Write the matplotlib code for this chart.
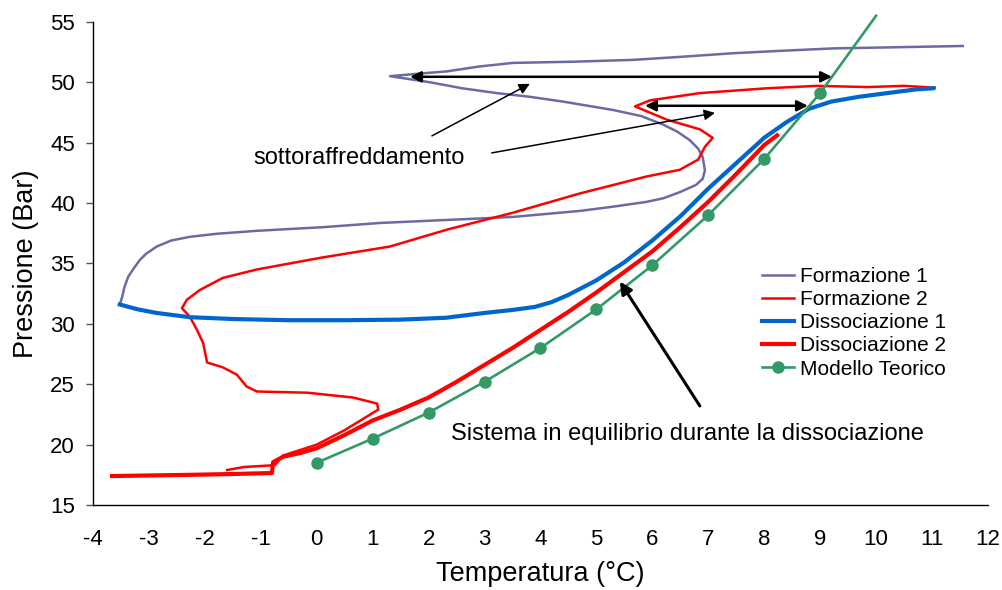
import matplotlib
matplotlib.use("Agg")
import matplotlib.pyplot as plt

plt.rcParams['font.family'] = ['Liberation Sans', 'DejaVu Sans']
plt.rcParams['axes.unicode_minus'] = False

# Formazione 1
form1_t = [11.55, 10.4, 9.23, 8.3, 7.44, 6.5, 5.65, 4.6, 3.51, 2.9, 2.33, 1.8, 1.31,
           2.02, 2.6, 3.22, 3.8, 4.4, 5.3, 5.8, 6.19, 6.45, 6.67, 6.82, 6.9, 6.94, 6.9,
           6.78, 6.49, 6.2, 5.9, 5.3, 4.71, 3.51, 2.33, 1.13, 0.11, -1.07, -1.8, -2.27,
           -2.6, -2.86, -3.05, -3.16, -3.27, -3.37, -3.44, -3.48, -3.52]
form1_p = [53.0, 52.9, 52.8, 52.6, 52.4, 52.1, 51.85, 51.7, 51.6, 51.3, 50.9, 50.7, 50.5,
           50.0, 49.5, 49.1, 48.8, 48.4, 47.7, 47.2, 46.5, 45.9, 45.2, 44.5, 43.8, 42.7, 42.0,
           41.5, 40.9, 40.4, 40.1, 39.7, 39.35, 38.85, 38.6, 38.35, 38.0, 37.7, 37.45, 37.2,
           36.9, 36.4, 35.8, 35.3, 34.6, 33.9, 33.0, 32.2, 31.6]

# Formazione 2
form2_t = [11.05, 10.5, 9.84, 8.94, 8.05, 6.85, 5.96, 5.69, 6.26, 6.85, 7.08, 6.94,
           6.82, 6.49, 5.9, 4.71, 3.51, 2.33, 1.31, 0.11, -1.07, -1.68, -2.09, -2.32,
           -2.41, -2.27, -2.14, -2.03, -1.96, -1.68, -1.43, -1.25, -1.07, -0.17, 0.65,
           1.08, 1.1, 0.5, 0.0, -0.6, -0.75, -1.3, -1.6]
form2_p = [49.55, 49.7, 49.6, 49.7, 49.5, 49.1, 48.5, 48.0, 46.9, 46.1, 45.4, 44.65,
           43.6, 42.75, 42.2, 40.8, 39.2, 37.8, 36.4, 35.5, 34.5, 33.8, 32.8, 32.0,
           31.3, 30.6, 29.5, 28.4, 26.8, 26.4, 25.8, 24.8, 24.4, 24.3, 23.9,
           23.4, 22.9, 21.2, 20.0, 19.1, 18.3, 18.15, 17.9]

# Dissociazione 1
diss1_t = [-3.52, -3.2, -2.86, -2.27, -1.5, -0.5, 0.5, 1.5, 2.3, 3.0, 3.5, 3.9, 4.2,
           4.5, 5.0, 5.5, 6.0, 6.5, 7.0, 7.5, 8.0, 8.4, 8.8, 9.2, 9.7, 10.2, 10.7, 11.02]
diss1_p = [31.6, 31.2, 30.9, 30.55, 30.4, 30.3, 30.3, 30.35, 30.5, 30.9, 31.15, 31.4, 31.8,
           32.4, 33.6, 35.1, 36.9, 38.9, 41.2, 43.3, 45.4, 46.7, 47.8, 48.4, 48.8, 49.1,
           49.4, 49.5]

# Dissociazione 2
diss2_t = [-3.66, -2.27, -1.5, -0.8, -0.78, -0.6, -0.3, 0.0, 0.5, 1.0, 1.5, 2.0, 2.5,
           3.0, 3.5, 4.0, 4.5, 5.0, 5.5, 6.0, 6.5, 7.0, 7.5, 8.0, 8.23]
diss2_p = [17.4, 17.5, 17.57, 17.65, 18.55, 19.0, 19.3, 19.7, 20.8, 22.0, 22.9, 23.9, 25.2,
           26.6, 28.0, 29.5, 31.0, 32.6, 34.3, 36.0, 38.0, 40.1, 42.4, 44.8, 45.6]

# Modello Teorico
model_t = [0, 1, 2, 3, 4, 5, 6, 7, 8, 9, 10]
model_p = [18.5, 20.5, 22.65, 25.2, 28.0, 31.2, 34.85, 39.0, 43.65, 49.1, 55.5]

fig = plt.figure(figsize=(10.03, 5.90), dpi=100)
ax = fig.add_axes([0.0927, 0.144, 0.8923, 0.819])

ax.plot(form1_t, form1_p, color='#6b6ba3', lw=1.8, label='Formazione 1', zorder=3)
ax.plot(form2_t, form2_p, color='#ff0000', lw=1.8, label='Formazione 2', zorder=3)
ax.plot(diss1_t, diss1_p, color='#0066cc', lw=3.0, label='Dissociazione 1', zorder=3)
ax.plot(diss2_t, diss2_p, color='#ff0000', lw=3.0, label='Dissociazione 2', zorder=3)
ax.plot(model_t, model_p, color='#339966', lw=1.9, marker='o', ms=8,
        markevery=list(range(10)), label='Modello Teorico', zorder=4, clip_on=False)

# arrows
double = dict(arrowstyle='<|-|>', color='black', lw=1.8, mutation_scale=16,
              shrinkA=0, shrinkB=0)
ax.annotate('', xy=(1.67, 50.45), xytext=(9.21, 50.45), arrowprops=double, zorder=5)
ax.annotate('', xy=(5.87, 48.05), xytext=(8.78, 48.05), arrowprops=double, zorder=5)
thin = dict(arrowstyle='-|>', color='black', lw=1.1, mutation_scale=16,
            shrinkA=0, shrinkB=0)
ax.annotate('', xy=(3.81, 49.87), xytext=(2.06, 45.56), arrowprops=thin, zorder=5)
ax.annotate('', xy=(7.12, 47.46), xytext=(3.13, 44.15), arrowprops=thin, zorder=5)
thick = dict(arrowstyle='-|>', color='black', lw=2.2, mutation_scale=18,
             shrinkA=0, shrinkB=0)
ax.annotate('', xy=(5.42, 33.5), xytext=(6.85, 23.2), arrowprops=thick, zorder=5)

ax.text(-1.14, 43.7, 'sottoraffreddamento', fontsize=17, va='center', ha='left')
ax.text(2.4, 20.9, 'Sistema in equilibrio durante la dissociazione', fontsize=17,
        va='center', ha='left')

ax.set_xlim(-4, 12)
ax.set_ylim(15, 55)
ax.set_xticks(range(-4, 13))
ax.set_yticks(range(15, 56, 5))
ax.tick_params(axis='x', length=0, pad=17, labelsize=16)
ax.tick_params(axis='y', length=5, width=1, color='#555555', pad=8, labelsize=16)
ax.spines['top'].set_visible(False)
ax.spines['right'].set_visible(False)
for s in ('left', 'bottom'):
    ax.spines[s].set_linewidth(1.0)

ax.set_xlabel('Temperatura (°C)', fontsize=19.5, labelpad=8)
ax.set_ylabel('Pressione (Bar)', fontsize=19.5, labelpad=8)

ax.legend(loc='upper left', bbox_to_anchor=(0.738, 0.51), frameon=False,
          fontsize=15, handlelength=1.55, handletextpad=0.3, labelspacing=0.2,
          borderaxespad=0)

fig.savefig('out.png', dpi=100)
